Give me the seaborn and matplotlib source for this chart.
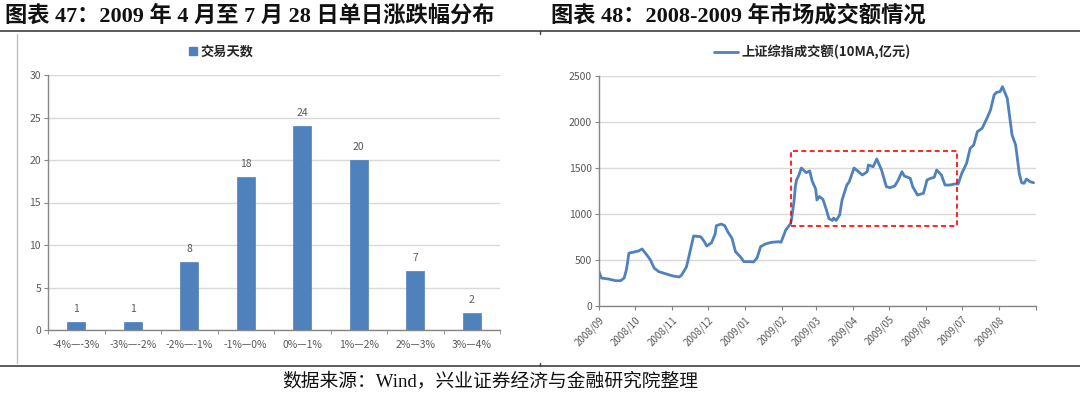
import matplotlib
matplotlib.use("Agg")
import matplotlib.pyplot as plt
import matplotlib.dates as mdates
from matplotlib.patches import Rectangle
from matplotlib.lines import Line2D
import pandas as pd
import seaborn as sns

# ---- data: left chart (daily change distribution) ----
ranges = ['-4%—-3%', '-3%—-2%', '-2%—-1%', '-1%—0%', '0%—1%', '1%—2%', '2%—3%', '3%—4%']
days = [1, 1, 8, 18, 24, 20, 7, 2]

# ---- data: right chart (turnover, 10MA, 100 million yuan) ----
dates = ['2008-09-01', '2008-09-03', '2008-09-09', '2008-09-15', '2008-09-19', '2008-09-22', '2008-09-24',
         '2008-09-26', '2008-09-30', '2008-10-04', '2008-10-07', '2008-10-11', '2008-10-14', '2008-10-17',
         '2008-10-21', '2008-10-30', '2008-11-02', '2008-11-07', '2008-11-09', '2008-11-13', '2008-11-15',
         '2008-11-19', '2008-11-25', '2008-11-28', '2008-11-30', '2008-12-04', '2008-12-07', '2008-12-08',
         '2008-12-12', '2008-12-15', '2008-12-18', '2008-12-21', '2008-12-24', '2008-12-28', '2008-12-31',
         '2009-01-06', '2009-01-08', '2009-01-11', '2009-01-14', '2009-01-18', '2009-01-23', '2009-01-29',
         '2009-01-31', '2009-02-04', '2009-02-08', '2009-02-09', '2009-02-11', '2009-02-12', '2009-02-13',
         '2009-02-15', '2009-02-17', '2009-02-21', '2009-02-24', '2009-02-26', '2009-03-01', '2009-03-02',
         '2009-03-04', '2009-03-07', '2009-03-10', '2009-03-12', '2009-03-15', '2009-03-16', '2009-03-18',
         '2009-03-21', '2009-03-23', '2009-03-27', '2009-03-29', '2009-04-02', '2009-04-05', '2009-04-09',
         '2009-04-13', '2009-04-14', '2009-04-18', '2009-04-21', '2009-04-25', '2009-04-29', '2009-05-02',
         '2009-05-06', '2009-05-09', '2009-05-12', '2009-05-14', '2009-05-19', '2009-05-21', '2009-05-25',
         '2009-05-30', '2009-06-02', '2009-06-05', '2009-06-08', '2009-06-10', '2009-06-14', '2009-06-17',
         '2009-06-21', '2009-06-25', '2009-06-28', '2009-07-01', '2009-07-05', '2009-07-08', '2009-07-11',
         '2009-07-14', '2009-07-18', '2009-07-22', '2009-07-25', '2009-07-28', '2009-07-30', '2009-08-02',
         '2009-08-04', '2009-08-08', '2009-08-12', '2009-08-15', '2009-08-18', '2009-08-20', '2009-08-22',
         '2009-08-24', '2009-08-27', '2009-08-30']
turnover = [373, 304, 293, 275, 275, 304, 400,
            575, 586, 598, 620, 554, 500, 413,
            373, 337, 326, 315, 337, 424, 533,
            761, 753, 699, 652, 688, 783, 873,
            891, 873, 797, 739, 590, 536, 482,
            482, 478, 522, 645, 674, 692, 699,
            692, 826, 895, 956, 1152, 1297, 1370,
            1424, 1500, 1449, 1468, 1360, 1270, 1152,
            1190, 1160, 1043, 950, 930, 956, 930,
            989, 1152, 1315, 1351, 1500, 1468, 1424,
            1460, 1533, 1514, 1598, 1478, 1297, 1286,
            1304, 1370, 1460, 1413, 1388, 1297, 1206,
            1225, 1370, 1388, 1399, 1478, 1424, 1315,
            1315, 1326, 1326, 1442, 1551, 1714, 1750,
            1895, 1931, 2040, 2130, 2293, 2322, 2330,
            2384, 2257, 1859, 1750, 1442, 1340, 1333,
            1380, 1351, 1340]
month_ticks = pd.date_range('2008-09-01', '2009-09-01', freq='MS')
month_labels = [d.strftime('%Y/%m') for d in month_ticks[:-1]] + ['']
box_start, box_end = '2009-02-08', '2009-06-27'
box_low, box_high = 870, 1690

sns.set_style('white')
plt.rcParams['font.family'] = ['Noto Sans CJK SC', 'DejaVu Sans']
plt.rcParams['axes.unicode_minus'] = False

blue = '#4F81BD'
grid_c = '#D9D9D9'
spine_c = '#868686'
tick_c = '#595959'
serif_cjk = ['Liberation Serif', 'Noto Sans CJK SC']

fig = plt.figure(figsize=(10.8, 3.94), dpi=100)
W, H = 1080, 394


def px_axes(x0, y_top, x1, y_bot):
    return fig.add_axes([x0 / W, 1 - y_bot / H, (x1 - x0) / W, (y_bot - y_top) / H])


def style_axes(ax):
    for s in ['top', 'right']:
        ax.spines[s].set_visible(False)
    for s in ['left', 'bottom']:
        ax.spines[s].set_color(spine_c)
        ax.spines[s].set_linewidth(1.0)
    ax.yaxis.grid(True, color=grid_c, lw=1.0)
    ax.set_axisbelow(True)
    ax.tick_params(axis='y', left=True, length=3, color=spine_c, labelsize=7.5, labelcolor=tick_c, pad=2)
    ax.set_xlabel('')
    ax.set_ylabel('')


# ---------------- left: bar chart ----------------
ax1 = px_axes(48, 75, 500, 330)
df1 = pd.DataFrame({'range': ranges, 'days': days})
sns.barplot(data=df1, x='range', y='days', color=blue, width=0.32, saturation=1,
            edgecolor='#3C6FAA', linewidth=0.4, ax=ax1)
style_axes(ax1)
ax1.set_ylim(0, 30)
ax1.set_yticks(range(0, 31, 5))
ax1.set_xlim(-0.5, len(ranges) - 0.5)
ax1.set_xticks(range(len(ranges)))
ax1.set_xticklabels(ranges)
ax1.tick_params(axis='x', which='major', length=0, labelsize=7.5, labelcolor=tick_c, pad=7)
ax1.set_xticks([i - 0.5 for i in range(len(ranges) + 1)], minor=True)
ax1.tick_params(axis='x', which='minor', bottom=True, length=3, color=spine_c)
for i, v in enumerate(days):
    ax1.text(i, v + 0.9, str(v), ha='center', va='bottom', fontsize=7.5, color=tick_c)
ax1.legend(handles=[Line2D([], [], marker='s', color=blue, ls='', markersize=6)],
           labels=['交易天数'], loc='center left', bbox_to_anchor=(177 / W, 1 - 52 / H),
           bbox_transform=fig.transFigure, frameon=False, handlelength=0.6,
           handletextpad=0.3, prop={'size': 9.5, 'weight': 'bold'})

# ---------------- right: line chart ----------------
ax2 = px_axes(599, 76, 1036, 306)
df2 = pd.DataFrame({'date': pd.to_datetime(dates), 'turnover': turnover})
sns.lineplot(data=df2, x='date', y='turnover', color=blue, lw=2.0, ax=ax2,
             label='上证综指成交额(10MA,亿元)')
style_axes(ax2)
ax2.set_ylim(0, 2500)
ax2.set_yticks(range(0, 2501, 500))
ax2.set_xlim(month_ticks[0], month_ticks[-1])
ax2.set_xticks(month_ticks)
ax2.set_xticklabels(month_labels, rotation=45, ha='right', rotation_mode='anchor')
ax2.tick_params(axis='x', bottom=True, length=3, color=spine_c, labelsize=7, labelcolor=tick_c, pad=3)
x0 = mdates.date2num(pd.Timestamp(box_start))
x1 = mdates.date2num(pd.Timestamp(box_end))
ax2.add_patch(Rectangle((x0, box_low), x1 - x0, box_high - box_low, fill=False,
                        ec='#FF0000', ls=(0, (3, 2)), lw=1.2, zorder=5))
ax2.legend(loc='center left', bbox_to_anchor=(702 / W, 1 - 52 / H), bbox_transform=fig.transFigure,
           frameon=False, handlelength=1.8, handletextpad=0.3, prop={'size': 9.5, 'weight': 'bold'})

# ---------------- frame, titles and source ----------------
fig.add_artist(Line2D([0, 1], [1 - 31 / H, 1 - 31 / H], color='#404040', lw=1.2))
fig.add_artist(Line2D([0, 1], [1 - 366 / H, 1 - 366 / H], color='#404040', lw=1.2))
fig.add_artist(Line2D([17 / W, 17 / W], [1 - 34 / H, 1 - 363 / H], color='#BFBFBF', lw=1.0))
fig.add_artist(Line2D([540 / W, 540 / W], [1 - 31 / H, 1 - 34 / H], color='#404040', lw=1.0))
fig.add_artist(Line2D([540 / W, 540 / W], [1 - 363 / H, 1 - 366 / H], color='#404040', lw=1.0))

fig.text(5 / W, 1 - 16 / H, '图表 47：2009 年 4 月至 7 月 28 日单日涨跌幅分布', family=serif_cjk,
         fontsize=16, weight='bold', ha='left', va='center', color='#111111')
fig.text(551 / W, 1 - 16 / H, '图表 48：2008-2009 年市场成交额情况', family=serif_cjk,
         fontsize=16, weight='bold', ha='left', va='center', color='#111111')
fig.text(490 / W, 1 - 381 / H, '数据来源：Wind，兴业证券经济与金融研究院整理', family=serif_cjk,
         fontsize=13.5, ha='center', va='center', color='#111111')

fig.savefig('out.png', dpi=100)
